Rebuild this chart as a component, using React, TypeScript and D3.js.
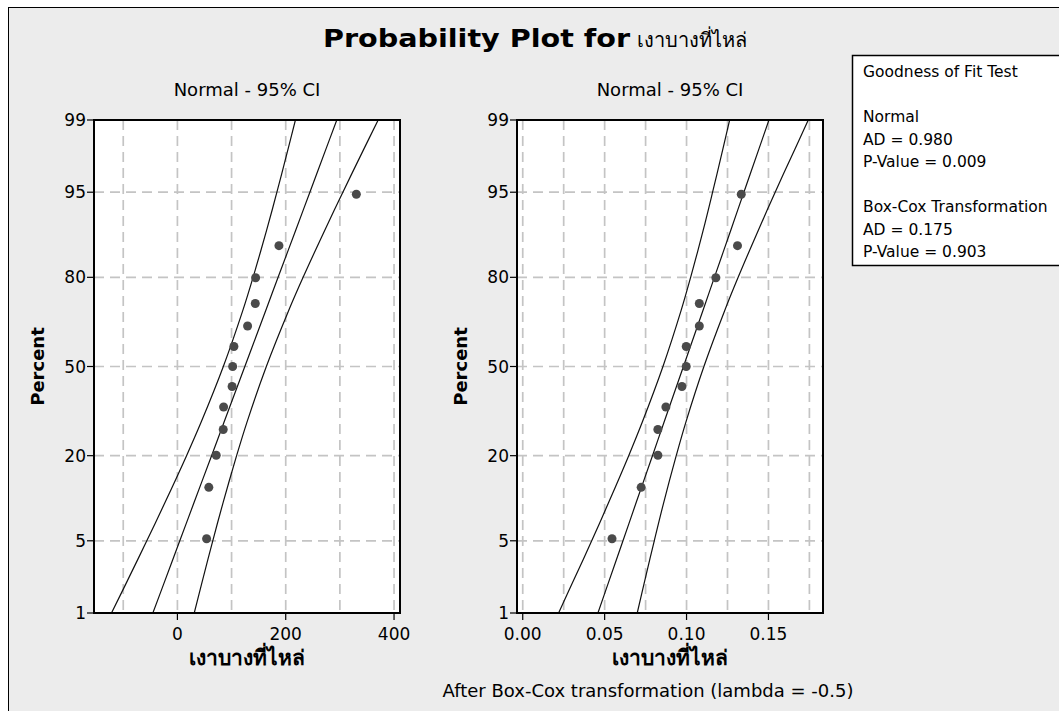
import React, { useEffect, useRef } from 'react';
import * as d3 from 'd3';

// percent levels shown on the probability axis
const percentTicks = [1, 5, 20, 50, 80, 95, 99];
const percentGrid = [5, 20, 50, 80, 95];

// plotting positions of the 13 observations (percent)
const pointPct = [5.2, 12.7, 20.1, 27.6, 35.1, 42.5, 50, 57.5, 64.9, 72.4, 79.9, 87.3, 94.8];

// original data, sorted
const rawValues = [53.9, 58, 71.7, 84.6, 85.3, 101, 102, 104.3, 129.6, 143.8, 144.4, 187.5, 330.4];
// after Box-Cox (lambda = -0.5), sorted
const bcValues = [0.0545, 0.0723, 0.0825, 0.0825, 0.0874, 0.0972, 0.0998, 0.0998, 0.1078, 0.1078, 0.1179, 0.1311, 0.1334];

// fitted line + 95% CI read at these percents
const curvePct = [1, 2, 5, 10, 20, 30, 50, 70, 80, 90, 95, 98, 99];
const rawFit = [-45.3, -25.4, 4.4, 30.9, 63.1, 86.2, 124.5, 162.8, 185.9, 218.1, 244.6, 274.4, 294.3];
const rawLower = [-121.7, -95.4, -56.5, -22.7, 16.9, 43.9, 84.8, 120.5, 139.7, 164.5, 183.7, 204.4, 217.9];
const rawUpper = [31.1, 44.6, 65.3, 84.5, 109.3, 128.5, 164.2, 205.1, 232.1, 271.7, 305.5, 344.4, 370.7];
const bcFit = [0.0459, 0.052, 0.0612, 0.0693, 0.0792, 0.0863, 0.0981, 0.1099, 0.117, 0.1269, 0.135, 0.1442, 0.1503];
const bcLower = [0.0219, 0.03, 0.0421, 0.0525, 0.0647, 0.073, 0.0856, 0.0966, 0.1025, 0.1101, 0.1159, 0.1222, 0.1263];
const bcUpper = [0.0699, 0.074, 0.0803, 0.0861, 0.0937, 0.0996, 0.1106, 0.1232, 0.1315, 0.1437, 0.1541, 0.1662, 0.1743];

// x axes
const rawGrid = [-100, 0, 100, 200, 300, 400];
const rawTicks = [0, 200, 400];
const bcGrid = [0, 0.025, 0.05, 0.075, 0.1, 0.125, 0.15, 0.175];
const bcTicks = [0, 0.05, 0.1, 0.15];

const legendLines = [
  'Goodness of Fit Test',
  '',
  'Normal',
  'AD = 0.980',
  'P-Value = 0.009',
  '',
  'Box-Cox Transformation',
  'AD = 0.175',
  'P-Value = 0.903'
];

const varName = 'เงาบางที่ไหล่';
const FONT = '"DejaVu Sans", Tahoma, Verdana, sans-serif';

// inverse normal cdf (Acklam)
function probit(p: number) {
  const a = [-3.969683028665376e1, 2.209460984245205e2, -2.759285104469687e2, 1.38357751867269e2, -3.066479806614716e1, 2.506628277459239];
  const b = [-5.447609879822406e1, 1.615858368580409e2, -1.556989798598866e2, 6.680131188771972e1, -1.328068155288572e1];
  const c = [-7.784894002430293e-3, -3.223964580411365e-1, -2.400758277161838, -2.549732539343734, 4.374664141464968, 2.938163982698783];
  const d = [7.784695709041462e-3, 3.224671290700398e-1, 2.445134137142996, 3.754408661907416];
  const pl = 0.02425;
  let q, r;
  if (p < pl) {
    q = Math.sqrt(-2 * Math.log(p));
    return (((((c[0] * q + c[1]) * q + c[2]) * q + c[3]) * q + c[4]) * q + c[5]) / ((((d[0] * q + d[1]) * q + d[2]) * q + d[3]) * q + 1);
  }
  if (p > 1 - pl) {
    q = Math.sqrt(-2 * Math.log(1 - p));
    return -(((((c[0] * q + c[1]) * q + c[2]) * q + c[3]) * q + c[4]) * q + c[5]) / ((((d[0] * q + d[1]) * q + d[2]) * q + d[3]) * q + 1);
  }
  q = p - 0.5;
  r = q * q;
  return (((((a[0] * r + a[1]) * r + a[2]) * r + a[3]) * r + a[4]) * r + a[5]) * q / (((((b[0] * r + b[1]) * r + b[2]) * r + b[3]) * r + b[4]) * r + 1);
}

function drawPanel(svg, o) {
  const top = 120, bottom = 613;
  const x = d3.scaleLinear().domain(o.domain).range([o.left, o.right]);
  const zy = d3.scaleLinear().domain([probit(0.01), probit(0.99)]).range([bottom, top]);
  const y = (pct: number) => zy(probit(pct / 100));

  const g = svg.append('g');

  g.append('rect')
    .attr('x', o.left).attr('y', top)
    .attr('width', o.right - o.left).attr('height', bottom - top)
    .attr('fill', '#fff');

  g.selectAll('line.vgrid')
    .data(o.grid)
    .enter().append('line')
    .attr('x1', d => x(d)).attr('x2', d => x(d))
    .attr('y1', top).attr('y2', bottom)
    .attr('stroke', '#c4c4c4').attr('stroke-width', 1.7)
    .attr('stroke-dasharray', '10,6');

  g.selectAll('line.hgrid')
    .data(percentGrid)
    .enter().append('line')
    .attr('x1', o.left).attr('x2', o.right)
    .attr('y1', d => y(d)).attr('y2', d => y(d))
    .attr('stroke', '#c4c4c4').attr('stroke-width', 1.7)
    .attr('stroke-dasharray', '10,6');

  const clipId = 'clip-' + o.id;
  svg.append('clipPath').attr('id', clipId)
    .append('rect')
    .attr('x', o.left).attr('y', top)
    .attr('width', o.right - o.left).attr('height', bottom - top);

  const line = d3.line<number>()
    .x(d => x(d[0]))
    .y(d => y(d[1]))
    .curve(d3.curveCatmullRom);

  [o.lower, o.fit, o.upper].forEach(vals => {
    g.append('path')
      .datum(vals.map((v, i) => [v, curvePct[i]]))
      .attr('d', line)
      .attr('fill', 'none')
      .attr('stroke', '#111')
      .attr('stroke-width', 1.2)
      .attr('clip-path', `url(#${clipId})`);
  });

  g.selectAll('circle')
    .data(o.values)
    .enter().append('circle')
    .attr('cx', d => x(d))
    .attr('cy', (d, i) => y(pointPct[i]))
    .attr('r', 4.5)
    .attr('fill', '#4a4a4a');

  g.append('rect')
    .attr('x', o.left).attr('y', top)
    .attr('width', o.right - o.left).attr('height', bottom - top)
    .attr('fill', 'none').attr('stroke', '#000').attr('stroke-width', 2);

  // y axis
  g.selectAll('line.ytick')
    .data(percentTicks)
    .enter().append('line')
    .attr('x1', o.left - 7).attr('x2', o.left)
    .attr('y1', d => y(d)).attr('y2', d => y(d))
    .attr('stroke', '#000').attr('stroke-width', 1.2);

  g.selectAll('text.ylab')
    .data(percentTicks)
    .enter().append('text')
    .attr('x', o.left - 8)
    .attr('y', d => y(d) + 6)
    .attr('text-anchor', 'end')
    .attr('font-size', 17)
    .text(d => d);

  // x axis
  g.selectAll('line.xtick')
    .data(o.ticks)
    .enter().append('line')
    .attr('x1', d => x(d)).attr('x2', d => x(d))
    .attr('y1', bottom).attr('y2', bottom + 7)
    .attr('stroke', '#000').attr('stroke-width', 1.2);

  g.selectAll('text.xlab')
    .data(o.ticks)
    .enter().append('text')
    .attr('x', d => x(d))
    .attr('y', 640)
    .attr('text-anchor', 'middle')
    .attr('font-size', 17)
    .text(d => o.format(d));

  const cx = (o.left + o.right) / 2;
  g.append('text')
    .attr('x', cx).attr('y', 96)
    .attr('text-anchor', 'middle')
    .attr('font-size', 18)
    .text('Normal - 95% CI');

  g.append('text')
    .attr('x', cx).attr('y', 665)
    .attr('text-anchor', 'middle')
    .attr('font-size', 21)
    .attr('font-weight', 'bold')
    .text(varName);

  g.append('text')
    .attr('transform', `translate(${o.left - 50}, ${(top + bottom) / 2}) rotate(-90)`)
    .attr('text-anchor', 'middle')
    .attr('font-size', 18)
    .attr('font-weight', 'bold')
    .text('Percent');
}

export default function App() {
  const ref = useRef<SVGSVGElement>(null);

  useEffect(() => {
    const svg = d3.select(ref.current);
    svg.selectAll('*').remove();

    svg.append('rect')
      .attr('x', 8.5).attr('y', 7.5)
      .attr('width', 1200).attr('height', 900)
      .attr('fill', '#ececec')
      .attr('stroke', '#000');

    svg.append('text')
      .attr('x', 323).attr('y', 47)
      .attr('font-size', 24)
      .attr('font-weight', 'bold')
      .attr('textLength', 307)
      .attr('lengthAdjust', 'spacingAndGlyphs')
      .text('Probability Plot for');

    svg.append('text')
      .attr('x', 637).attr('y', 47)
      .attr('font-size', 20)
      .text(varName);

    drawPanel(svg, {
      id: 'raw', left: 94, right: 400,
      domain: [-154, 411],
      grid: rawGrid, ticks: rawTicks, format: d3.format('d'),
      fit: rawFit, lower: rawLower, upper: rawUpper, values: rawValues
    });

    drawPanel(svg, {
      id: 'bc', left: 517, right: 823,
      domain: [-0.0035, 0.1833],
      grid: bcGrid, ticks: bcTicks, format: d3.format('.2f'),
      fit: bcFit, lower: bcLower, upper: bcUpper, values: bcValues
    });

    svg.append('text')
      .attr('x', 648).attr('y', 697)
      .attr('text-anchor', 'middle')
      .attr('font-size', 18)
      .text('After Box-Cox transformation (lambda = -0.5)');

    // goodness of fit box
    svg.append('rect')
      .attr('x', 852.5).attr('y', 55.5)
      .attr('width', 300).attr('height', 210)
      .attr('fill', '#fff')
      .attr('stroke', '#000').attr('stroke-width', 1.5);

    svg.selectAll('text.legend')
      .data(legendLines)
      .enter().append('text')
      .attr('x', 863)
      .attr('y', (d, i) => 77 + i * 22.5)
      .attr('font-size', 15.5)
      .text(d => d);
  }, []);

  return (
    <svg
      ref={ref}
      width={1059}
      height={711}
      style={{ position: 'absolute', left: 0, top: 0, fontFamily: FONT }}
    />
  );
}
